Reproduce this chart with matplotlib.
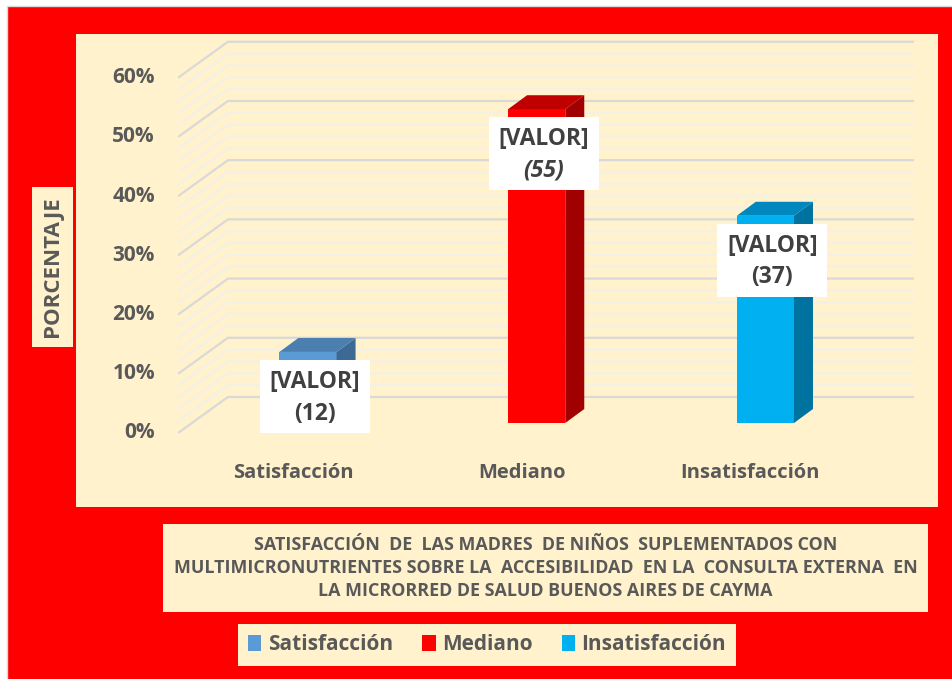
import matplotlib
matplotlib.use('Agg')
import matplotlib.pyplot as plt
from matplotlib.patches import Rectangle, Polygon, Patch

# datos
categorias = ['Satisfacción', 'Mediano', 'Insatisfacción']
valores = [12, 53, 35]
etiquetas_num = ['12', '55', '37']
etiqueta_cursiva = [False, True, False]
yticks = [0, 10, 20, 30, 40, 50, 60]
titulo = ['SATISFACCIÓN  DE  LAS MADRES  DE NIÑOS  SUPLEMENTADOS CON',
          'MULTIMICRONUTRIENTES SOBRE LA  ACCESIBILIDAD  EN LA  CONSULTA EXTERNA  EN',
          'LA MICRORRED DE SALUD BUENOS AIRES DE CAYMA']

col_frente = ['#5B9BD5', '#FF0000', '#00B0F0']
col_tope = ['#4A7FB0', '#C00000', '#0088BE']
col_lado = ['#3D6A94', '#A00000', '#0072A0']

CREMA = '#FFF2CC'
GRIS = '#595959'
plt.rcParams['font.family'] = ['Open Sans', 'DejaVu Sans']

fig = plt.figure(figsize=(9.53, 6.79), dpi=100)
fig.patch.set_facecolor('white')

# fondo en pixeles
bg = fig.add_axes([0, 0, 1, 1])
bg.set_xlim(0, 953)
bg.set_ylim(679, 0)
bg.axis('off')
bg.add_patch(Rectangle((7, 6), 950, 680, facecolor='#FF0000', edgecolor='#D9D9D9', lw=1))
bg.add_patch(Rectangle((32, 187), 41, 160, facecolor=CREMA, edgecolor='none'))
bg.text(53, 267, 'PORCENTAJE', rotation=90, ha='center', va='center',
        fontsize=16, fontweight='bold', color=GRIS)
bg.add_patch(Rectangle((163, 524), 765, 88, facecolor=CREMA, edgecolor='none'))
bg.text(545.5, 568, '\n'.join(titulo), ha='center', va='center', fontsize=12.9,
        fontweight='bold', color=GRIS, linespacing=1.36)

# area del grafico
ax = fig.add_axes([76 / 953, (679 - 507) / 679, (938 - 76) / 953, (507 - 34) / 679])
ax.set_facecolor(CREMA)
ax.set_xlim(-1.0144, 2.7547)
ax.set_ylim(-14.19, 65.7)
ax.set_xticks([])
ax.set_yticks([])
for s in ax.spines.values():
    s.set_visible(False)

# perspectiva
x_front, x_back, x_right = -0.568, -0.350, 2.650
off_front, off_back = -1.69, 4.39
dx, dy = 0.083, 2.36
ancho = 0.25

for v in range(0, 61, 2):
    mayor = v % 10 == 0
    ax.plot([x_front, x_back, x_right], [v + off_front, v + off_back, v + off_back],
            color='#D9D9D9' if mayor else '#F4F0E6', lw=1.6, zorder=1,
            solid_capstyle='butt')

for v in yticks:
    ax.text(-0.669, v + off_front, f'{v}%', ha='right', va='center', fontsize=15,
            fontweight='bold', color=GRIS)

for i, (cat, v) in enumerate(zip(categorias, valores)):
    ax.bar(i, v, width=ancho, color=col_frente[i], zorder=3)
    r = i + ancho / 2
    l = i - ancho / 2
    ax.add_patch(Polygon([(r, 0), (r + dx, dy), (r + dx, v + dy), (r, v)],
                         closed=True, facecolor=col_lado[i], edgecolor='none', zorder=3))
    ax.add_patch(Polygon([(l, v), (r, v), (r + dx, v + dy), (l + dx, v + dy)],
                         closed=True, facecolor=col_tope[i], edgecolor='none', zorder=3))
    ax.text(i - 0.066, -8.45, cat, ha='center', va='center', fontsize=14.5,
            fontweight='bold', color=GRIS)

    # etiqueta de datos
    cx, cy = i + 0.03, v - 7.5
    ax.add_patch(Rectangle((cx - 0.2405, cy - 6.15), 0.481, 12.3, facecolor='white',
                           edgecolor='none', zorder=5))
    ax.text(cx, cy + 2.4, '[VALOR]', ha='center', va='center', fontsize=16.5,
            fontweight='bold', color='#404040', zorder=6)
    ax.text(cx, cy - 2.9, f'({etiquetas_num[i]})', ha='center', va='center', fontsize=16.5,
            fontweight='bold', color='#404040', zorder=6,
            fontstyle='italic' if etiqueta_cursiva[i] else 'normal')

handles = [Patch(facecolor=c, edgecolor='none') for c in col_frente]
leg = ax.legend(handles, categorias, loc='center', bbox_to_anchor=(487 / 953, 1 - 645 / 679),
                bbox_transform=fig.transFigure, ncol=3, frameon=True, fancybox=False,
                facecolor=CREMA, edgecolor='none', framealpha=1, fontsize=15,
                handlelength=0.65, handleheight=0.8, handletextpad=0.3,
                columnspacing=1.4, borderpad=0.5)
for t in leg.get_texts():
    t.set_color(GRIS)
    t.set_fontweight('bold')

fig.savefig('out.png', dpi=100, facecolor=fig.get_facecolor())
